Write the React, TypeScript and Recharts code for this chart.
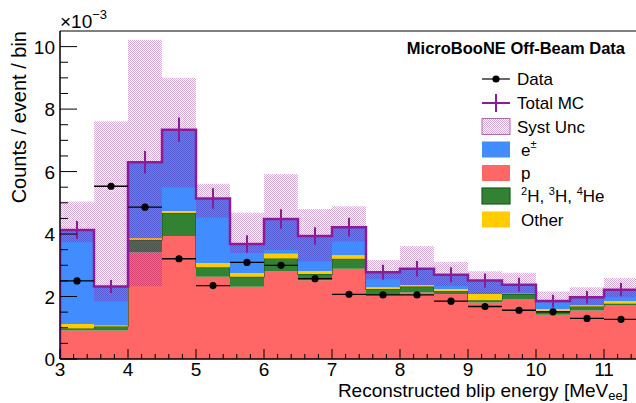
import { ComposedChart, Area, Line, Scatter, ErrorBar, XAxis, YAxis, ReferenceArea } from 'recharts';

// bins of 0.5 MeV from 3 to 11.5
const binEdges = [3, 3.5, 4, 4.5, 5, 5.5, 6, 6.5, 7, 7.5, 8, 8.5, 9, 9.5, 10, 10.5, 11, 11.5];
const binCenters = [3.25, 3.75, 4.25, 4.75, 5.25, 5.75, 6.25, 6.75, 7.25, 7.75, 8.25, 8.75, 9.25, 9.75, 10.25, 10.75, 11.25];

// stacked MC components (x1e-3)
const protons = [0.91, 0.91, 3.41, 3.94, 2.63, 2.31, 2.8, 2.52, 2.89, 2.03, 2.13, 2.08, 1.81, 1.92, 1.42, 1.55, 1.71];
const nuclei = [0.07, 0.13, 0.4, 0.73, 0.31, 0.32, 0.42, 0.2, 0.32, 0.21, 0.19, 0.1, 0.07, 0.16, 0.12, 0.13, 0.06];
const other = [0.14, 0.03, 0.06, 0.07, 0.13, 0.12, 0.15, 0.1, 0.11, 0.06, 0.05, 0.06, 0.2, 0.02, 0.06, 0.04, 0.09];
const electrons = [3.01, 1.25, 2.43, 2.6, 2.07, 0.93, 1.11, 1.12, 0.9, 0.48, 0.52, 0.46, 0.43, 0.28, 0.26, 0.26, 0.36];

const systLow = [3.74, 1.84, 2.33, 5.5, 4.52, 3.39, 3.49, 3.12, 3.76, 2.55, 2.37, 2.34, 2.08, 2.1, 1.8, 1.72, 1.98];
const systHigh = [5.04, 7.61, 10.22, 9.0, 5.61, 4.68, 5.92, 4.8, 4.89, 3.17, 3.62, 3.11, 2.81, 2.76, 2.16, 2.3, 2.59];
const mcStatErr = [0.29, 0.21, 0.36, 0.39, 0.33, 0.28, 0.31, 0.28, 0.3, 0.24, 0.25, 0.24, 0.23, 0.22, 0.2, 0.2, 0.21];

const dataCounts = [2.5, 5.53, 4.86, 3.21, 2.35, 3.09, 3.0, 2.57, 2.07, 2.05, 2.05, 1.85, 1.68, 1.56, 1.51, 1.3, 1.27];

const xTicks = [
  3, 3.2, 3.4, 3.6, 3.8, 4, 4.2, 4.4, 4.6, 4.8, 5, 5.2, 5.4, 5.6, 5.8, 6, 6.2, 6.4, 6.6, 6.8, 7, 7.2, 7.4, 7.6,
  7.8, 8, 8.2, 8.4, 8.6, 8.8, 9, 9.2, 9.4, 9.6, 9.8, 10, 10.2, 10.4, 10.6, 10.8, 11, 11.2, 11.4,
];
const xLabels = [3, 4, 5, 6, 7, 8, 9, 10, 11];
const yTicks = [0, 0.5, 1, 1.5, 2, 2.5, 3, 3.5, 4, 4.5, 5, 5.5, 6, 6.5, 7, 7.5, 8, 8.5, 9, 9.5, 10];
const yLabels = [0, 2, 4, 6, 8, 10];

const RED = '#ff6666';
const BLUE = '#418cff';
const GREEN = '#338233';
const YELLOW = '#ffcc00';
const PURPLE = '#8c1b98';
const FONT = '"Liberation Sans", Arial, sans-serif';

const nBins = binCenters.length;
const totals = binCenters.map((_, j) => protons[j] + nuclei[j] + other[j] + electrons[j]);

const stackData = binEdges.map((x, i) => {
  const j = Math.min(i, nBins - 1);
  return { x, p: protons[j], nuc: nuclei[j], oth: other[j], e: electrons[j], band: [systLow[j], systHigh[j]] };
});

const totalLine = [
  { x: binEdges[0], y: 0 },
  ...binEdges.map((x, i) => ({ x, y: totals[Math.min(i, nBins - 1)] })),
  { x: binEdges[binEdges.length - 1], y: 0 },
];

const mcPoints = binCenters.map((x, j) => ({ x, y: totals[j], err: mcStatErr[j] }));
const dataPoints = binCenters.map((x, j) => ({ x, y: dataCounts[j], xerr: 0.25 }));

const XTick = ({ x, y, payload }: any) => {
  const major = xLabels.includes(payload.value);
  return (
    <g>
      <line x1={x} x2={x} y1={y} y2={y - (major ? 10 : 5)} stroke="#000" strokeWidth={1} />
      {major && (
        <text x={x} y={y + 16.5} textAnchor="middle" fontSize={19} fontFamily={FONT} fill="#000">
          {payload.value}
        </text>
      )}
    </g>
  );
};

const YTick = ({ x, y, payload }: any) => {
  const major = yLabels.includes(payload.value);
  return (
    <g>
      <line x1={x} x2={x + (major ? 17 : 8)} y1={y} y2={y} stroke="#000" strokeWidth={1} />
      {major && (
        <text x={x - 5} y={y + 7} textAnchor="end" fontSize={19} fontFamily={FONT} fill="#000">
          {payload.value}
        </text>
      )}
    </g>
  );
};

const legendRows = [79, 103, 126.5, 149.5, 173, 196, 219.5];

function Hatch({ id }: { id: string }) {
  return (
    <pattern id={id} width="2" height="2" patternUnits="userSpaceOnUse">
      <rect x="0" y="0" width="1" height="1" fill="#800080" fillOpacity={0.33} />
      <rect x="1" y="1" width="1" height="1" fill="#800080" fillOpacity={0.33} />
    </pattern>
  );
}

function Overlay() {
  const bx = 482;
  const tx = 517;
  const box = (cy: number) => ({ x: bx, y: cy - 8, width: 28, height: 16 });
  return (
    <svg width={636} height={403} style={{ position: 'absolute', left: 0, top: 0, pointerEvents: 'none' }} fontFamily={FONT}>
      <defs>
        <Hatch id="hatchLeg" />
      </defs>
      <text x={60} y={28} fontSize={19} fill="#000">
        ×10<tspan fontSize={13} dy={-9}>−3</tspan>
      </text>
      <text x={26} y={31} fontSize={20} fill="#000" textAnchor="end" transform="rotate(-90 26 31)">
        Counts / event / bin
      </text>
      <text x={628} y={397} fontSize={19} fill="#000" textAnchor="end">
        Reconstructed blip energy [MeV<tspan fontSize={13} dy={3}>ee</tspan>
        <tspan dy={-3}>]</tspan>
      </text>
      <text x={625} y={54} fontSize={16.5} fontWeight="bold" fill="#000" textAnchor="end">
        MicroBooNE Off-Beam Data
      </text>

      <line x1={bx} x2={bx + 28} y1={legendRows[0]} y2={legendRows[0]} stroke="#000" strokeWidth={1.2} />
      <circle cx={bx + 14} cy={legendRows[0]} r={3.6} fill="#000" />
      <text x={tx} y={legendRows[0] + 6} fontSize={17}>Data</text>

      <line x1={bx} x2={bx + 28} y1={legendRows[1]} y2={legendRows[1]} stroke={PURPLE} strokeWidth={2} />
      <line x1={bx + 14} x2={bx + 14} y1={legendRows[1] - 9} y2={legendRows[1] + 9} stroke={PURPLE} strokeWidth={2} />
      <text x={tx} y={legendRows[1] + 6} fontSize={17}>Total MC</text>

      <rect {...box(legendRows[2])} fill="url(#hatchLeg)" stroke="#b066b0" strokeWidth={1} />
      <text x={tx} y={legendRows[2] + 6} fontSize={17}>Syst Unc</text>

      <rect {...box(legendRows[3])} fill={BLUE} />
      <text x={tx + 4} y={legendRows[3] + 6} fontSize={17}>
        e<tspan fontSize={11} dy={-8}>±</tspan>
      </text>

      <rect {...box(legendRows[4])} fill={RED} />
      <text x={tx + 4} y={legendRows[4] + 6} fontSize={17}>p</text>

      <rect {...box(legendRows[5])} fill={GREEN} stroke="#1a5e1a" strokeWidth={1.2} />
      <text x={tx + 4} y={legendRows[5] + 6} fontSize={17}>
        <tspan fontSize={11} dy={-7}>2</tspan>
        <tspan dy={7}>H, </tspan>
        <tspan fontSize={11} dy={-7}>3</tspan>
        <tspan dy={7}>H, </tspan>
        <tspan fontSize={11} dy={-7}>4</tspan>
        <tspan dy={7}>He</tspan>
      </text>

      <rect {...box(legendRows[6])} fill={YELLOW} />
      <text x={tx + 4} y={legendRows[6] + 6} fontSize={17}>Other</text>
    </svg>
  );
}

export default function App() {
  return (
    <div
      style={{
        position: 'absolute',
        left: 0,
        top: 0,
        width: 636,
        height: 403,
        overflow: 'hidden',
        background: '#fff',
        fontFamily: FONT,
      }}
    >
      <ComposedChart width={640} height={403} data={stackData} margin={{ top: 31, right: 2, left: 0, bottom: 0 }}>
        <defs>
          <Hatch id="hatchSyst" />
        </defs>
        <XAxis
          dataKey="x"
          type="number"
          domain={[3, 11.5]}
          allowDataOverflow
          ticks={xTicks}
          interval={0}
          tickSize={0}
          tickMargin={0}
          tickLine={false}
          axisLine={{ stroke: '#000', strokeWidth: 1 }}
          tick={<XTick />}
          height={44}
        />
        <YAxis
          type="number"
          domain={[0, 10.5]}
          allowDataOverflow
          ticks={yTicks}
          interval={0}
          tickSize={0}
          tickMargin={0}
          tickLine={false}
          axisLine={{ stroke: '#000', strokeWidth: 1 }}
          tick={<YTick />}
          width={60}
        />
        <Area type="stepAfter" dataKey="p" stackId="mc" fill={RED} fillOpacity={1} stroke="none" isAnimationActive={false} />
        <Area type="stepAfter" dataKey="nuc" stackId="mc" fill={GREEN} fillOpacity={1} stroke="#1a5e1a" strokeWidth={1.2} isAnimationActive={false} />
        <Area type="stepAfter" dataKey="oth" stackId="mc" fill={YELLOW} fillOpacity={1} stroke="none" isAnimationActive={false} />
        <Area type="stepAfter" dataKey="e" stackId="mc" fill={BLUE} fillOpacity={1} stroke="none" isAnimationActive={false} />
        <Area type="stepAfter" dataKey="band" fill="url(#hatchSyst)" fillOpacity={1} stroke="none" isAnimationActive={false} />
        <Line data={totalLine} type="stepAfter" dataKey="y" stroke={PURPLE} strokeWidth={2.5} dot={false} isAnimationActive={false} />
        <Scatter data={mcPoints} dataKey="y" shape={() => <g />} isAnimationActive={false}>
          <ErrorBar dataKey="err" direction="y" width={0} stroke={PURPLE} strokeWidth={2} />
        </Scatter>
        <Scatter
          data={dataPoints}
          dataKey="y"
          shape={(p: any) => <circle cx={p.cx} cy={p.cy} r={3.6} fill="#000" />}
          isAnimationActive={false}
        >
          <ErrorBar dataKey="xerr" direction="x" width={0} stroke="#000" strokeWidth={1.3} />
        </Scatter>
        <ReferenceArea x1={3} x2={11.5} y1={0} y2={10.5} fill="none" stroke="#000" strokeWidth={1} ifOverflow="visible" />
      </ComposedChart>
      <Overlay />
    </div>
  );
}
